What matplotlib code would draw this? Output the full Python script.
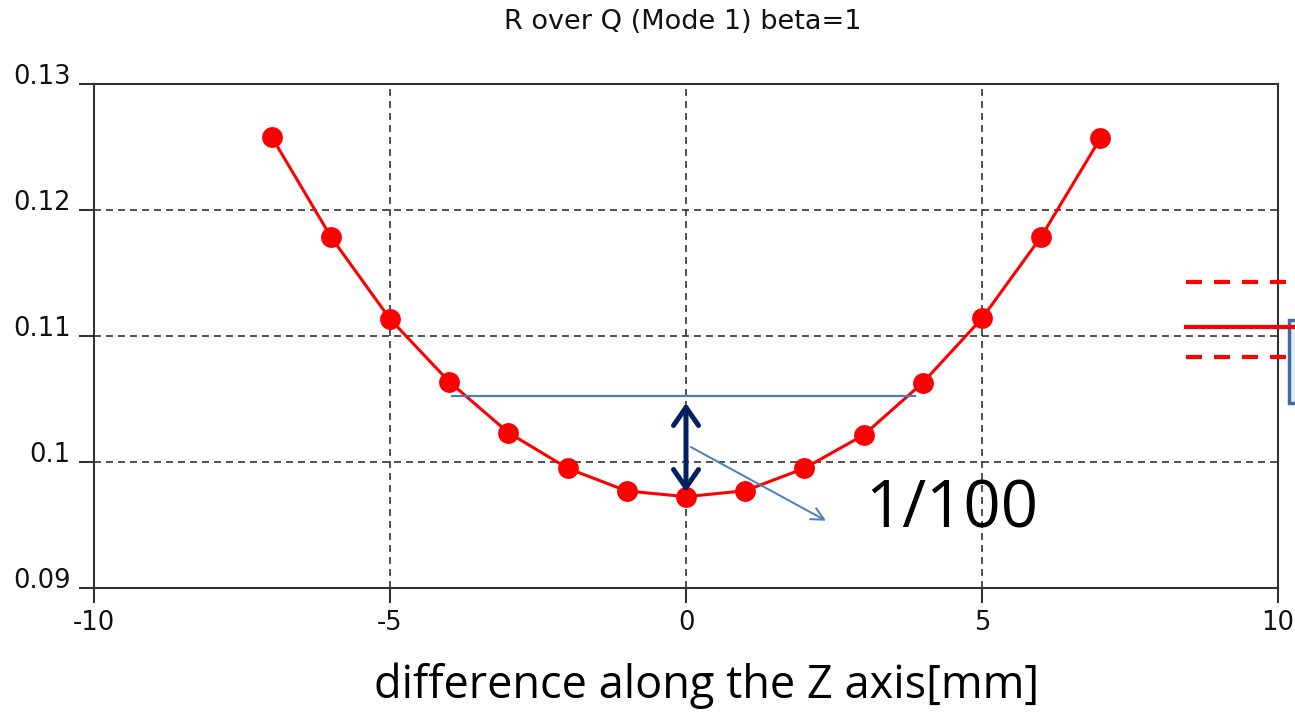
import matplotlib
matplotlib.use("Agg")
import matplotlib.pyplot as plt
from matplotlib.lines import Line2D
from matplotlib.patches import Rectangle

### Data
z_mm = [-7, -6, -5, -4, -3, -2, -1, 0, 1, 2, 3, 4, 5, 6, 7]
r_over_q = [0.12582, 0.11788, 0.11135, 0.10637, 0.10233, 0.09950, 0.09770, 0.09725,
            0.09772, 0.09950, 0.10214, 0.10629, 0.11140, 0.11788, 0.12569]
x_ticks = [-10, -5, 0, 5, 10]
y_ticks = [0.09, 0.10, 0.11, 0.12, 0.13]
y_ticklabels = ["0.09", "0.1", "0.11", "0.12", "0.13"]

# overlay annotations (data coords)
ref_line_x = (-3.96, 3.87)
ref_line_y = 0.10526
gap_top, gap_bottom = 0.10468, 0.09762
pointer_from = (0.08, 0.10119)
pointer_to = (2.365, 0.09534)

dark = "#333333"
office_blue = "#4a7ebb"

fig = plt.figure(figsize=(12.95, 7.13), dpi=100)
ax = fig.add_axes([94 / 1295, 1 - 588 / 713, (1278 - 94) / 1295, (588 - 84) / 713])

ax.plot(z_mm, r_over_q, color="red", linewidth=2.2, marker="o", markersize=15,
        markeredgewidth=0, zorder=3)

ax.set_xlim(-10, 10)
ax.set_ylim(0.09, 0.13)
ax.set_xticks(x_ticks)
ax.set_xticklabels([str(t) for t in x_ticks])
ax.set_yticks(y_ticks)
ax.set_yticklabels(y_ticklabels)

ax.grid(True, color=dark, linewidth=1.2, linestyle=(0, (4.2, 3.0)))
ax.set_axisbelow(True)
for s in ax.spines.values():
    s.set_color(dark)
    s.set_linewidth(1.5)

ax.tick_params(direction="out", length=10.5, width=1.5, color=dark,
               labelsize=18.5, labelcolor="#111111")
ax.tick_params(axis="y", pad=6.5)
ax.tick_params(axis="x", pad=5)
for lab in ax.get_yticklabels():
    lab.set_verticalalignment("baseline")

fig.text(683 / 1295, 1 - 22 / 713, "R over Q (Mode 1) beta=1", ha="center", va="center",
         fontsize=19.5, color="#111111")

# powerpoint style overlays
ax.plot(ref_line_x, [ref_line_y, ref_line_y], color=office_blue, linewidth=1.6, zorder=4)
ax.annotate("", xy=(0, gap_bottom), xytext=(0, gap_top),
            arrowprops=dict(arrowstyle="<->,head_length=1.3,head_width=0.9",
                            color="#002060", linewidth=3.6, shrinkA=0, shrinkB=0), zorder=5)
ax.annotate("", xy=pointer_to, xytext=pointer_from,
            arrowprops=dict(arrowstyle="->,head_length=0.9,head_width=0.45",
                            color=office_blue, linewidth=1.4, shrinkA=0, shrinkB=0), zorder=5)

fig.text(865 / 1295, 1 - 527 / 713, "1/100", ha="left", va="baseline",
         fontsize=47, family="Open Sans", color="black")
fig.text(707 / 1295, 1 - 698 / 713, "difference along the Z axis[mm]", ha="center",
         va="baseline", fontsize=32.5, family="Open Sans", color="black")

# partial shapes cut at the right edge
for yy, ls in [(282, (0, (3.84, 2.88))), (327, "-"), (357, (0, (3.84, 2.88)))]:
    x1 = 1286 if ls != "-" else 1295
    fig.add_artist(Line2D([1186 / 1295, x1 / 1295], [1 - yy / 713, 1 - yy / 713],
                          transform=fig.transFigure, color="red", linewidth=3, linestyle=ls))
fig.add_artist(Rectangle((1289 / 1295, 1 - 403 / 713), 20 / 1295, 83 / 713,
                         transform=fig.transFigure, facecolor="#e8eef7",
                         edgecolor="#3f6ea5", linewidth=2.5))

fig.savefig("out.png", dpi=100)
